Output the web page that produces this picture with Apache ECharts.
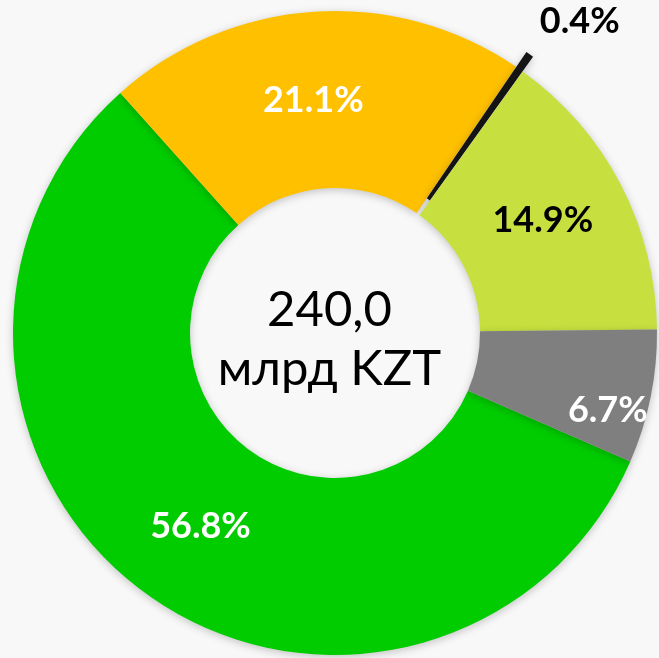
<!DOCTYPE html>
<html>
<head>
<meta charset="utf-8">
<script src="https://cdn.jsdelivr.net/npm/echarts@6/dist/echarts.min.js"></script>
<style>
  html, body { margin: 0; padding: 0; background: #f8f8f8; }
  #main { width: 659px; height: 658px; }
</style>
</head>
<body>
<div id="main"></div>
<script type="text/javascript">
// данные (доли, %)
var categories = ['Сегмент 1', 'Сегмент 2', 'Сегмент 3', 'Сегмент 4', 'Сегмент 5'];
var values = [56.8, 21.1, 0.4, 14.9, 6.7];
var colors = ['#00cc00', '#ffc000', '#151515', '#c8e03f', '#7f7f7f'];
var labelColors = ['#fff', '#fff', '#000', '#000', '#fff'];
var totalText = '240,0\nмлрд KZT';

// сдвиги подписей относительно стандартного положения
var labelShift = [[4, 2], [-6, 3], [99, -103], [-2, -3], [41, 31]];

var myChart = echarts.init(document.getElementById('main'));

var pieData = values.map(function (v, i) {
    return {
        name: categories[i],
        value: v,
        selected: i === 2,
        itemStyle: { color: colors[i] },
        label: { color: labelColors[i] }
    };
});

var option = {
    backgroundColor: '#f8f8f8',
    animation: false,
    graphic: [{
        type: 'text',
        left: 'center',
        top: 281,
        style: {
            text: totalText,
            x: 0,
            font: '49px Lato',
            fill: '#000',
            textAlign: 'center',
            lineHeight: 59
        }
    }],
    series: [{
        type: 'pie',
        center: [335, 333],
        radius: [145, 322],
        startAngle: -23.5,
        clockwise: true,
        selectedMode: 'single',
        selectedOffset: 18,
        avoidLabelOverlap: false,
        itemStyle: {
            shadowBlur: 8,
            shadowOffsetY: 2,
            shadowColor: 'rgba(0,0,0,0.22)'
        },
        label: {
            show: true,
            position: 'inside',
            fontFamily: 'Lato',
            fontWeight: 'bold',
            fontSize: 36,
            formatter: function (p) { return p.value.toFixed(1) + '%'; }
        },
        labelLine: { show: false },
        emphasis: { disabled: true },
        labelLayout: function (params) {
            var s = labelShift[params.dataIndex];
            return { dx: s[0], dy: s[1] };
        },
        data: pieData
    }]
};

myChart.setOption(option);
</script>
</body>
</html>
